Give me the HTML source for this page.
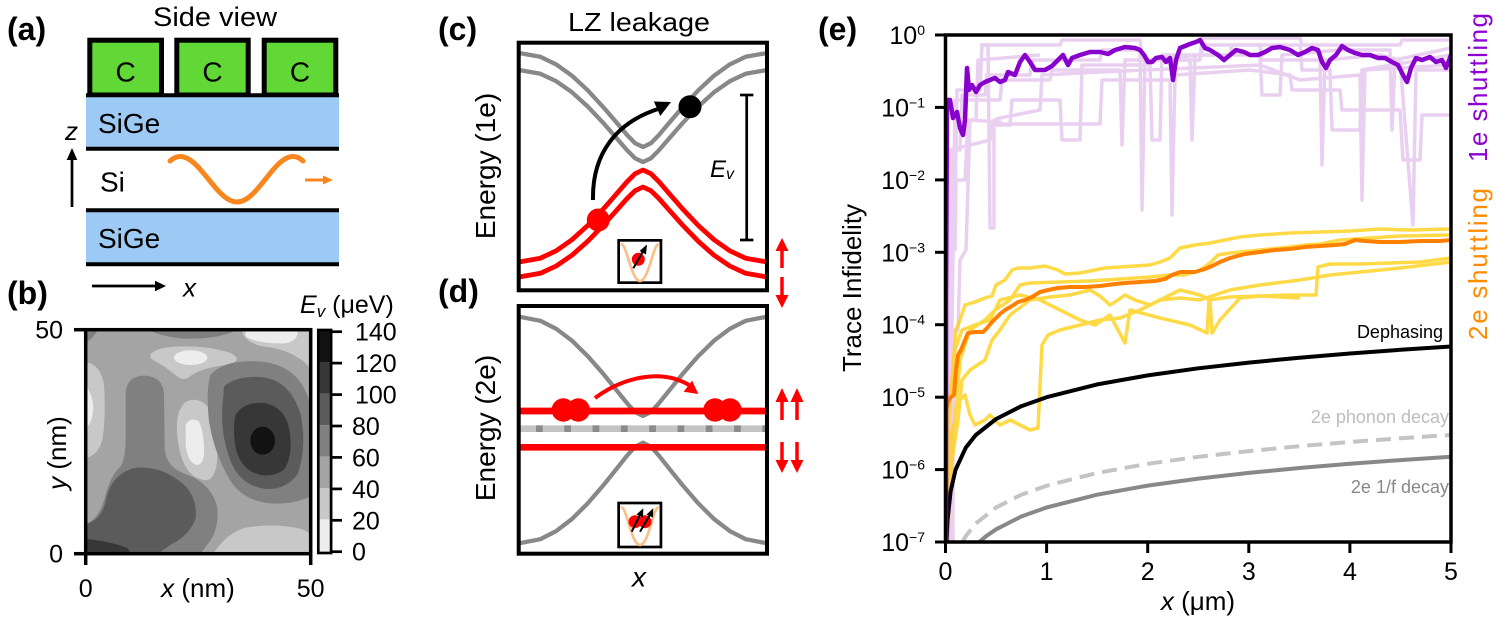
<!DOCTYPE html>
<html><head><meta charset="utf-8"><style>
body{margin:0;background:#fff}
svg{display:block}
text{font-family:"Liberation Sans",sans-serif;fill:#000}
</style></head><body>
<svg width="1498" height="620" viewBox="0 0 1498 620" xmlns="http://www.w3.org/2000/svg">
<defs>
<clipPath id="cmap"><rect x="87.3" y="331.3" width="221.7" height="220.7"/></clipPath>
<clipPath id="ce"><rect x="945.5" y="35" width="505.5" height="507"/></clipPath>
<clipPath id="cc"><rect x="518.7" y="42.7" width="248.3" height="247.6"/></clipPath>
<clipPath id="cd"><rect x="518.7" y="306" width="248.3" height="247.7"/></clipPath>
</defs>
<rect width="1498" height="620" fill="#fff"/>

<!-- ========== Panel (a) ========== -->
<text x="7" y="40" font-size="32" font-weight="bold">(a)</text>
<text x="215" y="26" font-size="27" text-anchor="middle" textLength="124" lengthAdjust="spacingAndGlyphs">Side view</text>
<g fill="#62d836" stroke="#000" stroke-width="5">
<rect x="89.8" y="40.2" width="71.7" height="54.8"/>
<rect x="176.8" y="40.2" width="71.4" height="54.8"/>
<rect x="264.2" y="40.2" width="71.6" height="54.8"/>
</g>
<text x="125.6" y="81.7" font-size="28" text-anchor="middle">C</text>
<text x="212.5" y="81.7" font-size="28" text-anchor="middle">C</text>
<text x="300" y="81.7" font-size="28" text-anchor="middle">C</text>
<rect x="86" y="97" width="253" height="50" fill="#9dcaf4"/>
<rect x="86" y="212" width="253" height="51" fill="#9dcaf4"/>
<g stroke="#000" stroke-width="4">
<line x1="86" y1="95.3" x2="339" y2="95.3"/>
<line x1="86" y1="148.7" x2="339" y2="148.7"/>
<line x1="86" y1="210.3" x2="339" y2="210.3"/>
<line x1="86" y1="264.3" x2="339" y2="264.3"/>
</g>
<text x="98" y="133" font-size="28">SiGe</text>
<text x="98" y="248" font-size="28">SiGe</text>
<text x="100" y="191.7" font-size="28">Si</text>
<text x="65" y="140" font-size="26" font-style="italic">z</text>
<line x1="72" y1="207" x2="72" y2="158" stroke="#000" stroke-width="2.7"/>
<polygon points="72,148 66.7,160 77.3,160" fill="#000"/>
<line x1="92" y1="286" x2="157" y2="286" stroke="#000" stroke-width="2.7"/>
<polygon points="166,286 155,280.7 155,291.3" fill="#000"/>
<text x="183" y="296.7" font-size="26" font-style="italic">x</text>
<path d="M170 161 C174 157.5,177 156.5,180 156.5 C200.5 156.5,216.5 202,237 202 C257.5 202,273.5 156.5,293 156.5 C297 156.5,300 158,303 161" fill="none" stroke="#f7861d" stroke-width="5" stroke-linecap="round"/>
<line x1="305" y1="180" x2="325" y2="180" stroke="#f7861d" stroke-width="3"/>
<polygon points="333,180 323,175.5 323,184.5" fill="#f7861d"/>

<!-- ========== Panel (b) ========== -->
<text x="7" y="304" font-size="32" font-weight="bold">(b)</text>
<g clip-path="url(#cmap)">
<g transform="translate(84 328) scale(0.33333)">
<rect x="0" y="0" width="690" height="690" fill="#a4a4a4"/>
<path d="M0 0 L45 0 Q30 30 0 48 Z" fill="#808080"/>
<path d="M180 0 Q250 35 330 32 Q420 30 470 0 Z" fill="#808080"/>
<path d="M470 0 L690 0 L690 135 Q665 100 640 88 Q600 62 540 56 Q480 45 470 0 Z" fill="#c8c8c8"/>
<path d="M485 0 L640 0 Q648 40 600 46 Q520 48 485 25 Z" fill="#ededed"/>
<path d="M200 78 Q220 55 300 55 Q380 55 440 75 Q485 100 420 112 Q360 118 322 142 Q300 162 280 146 Q240 112 200 92 Z" fill="#c8c8c8"/>
<ellipse cx="320" cy="89" rx="50" ry="22" fill="#ededed"/>
<path d="M0 100 Q50 108 60 170 Q66 260 56 330 Q46 382 0 392 Z" fill="#c8c8c8"/>
<path d="M0 165 Q28 200 28 240 Q25 290 0 305 Z" fill="#ededed"/>
<path d="M300 225 Q340 200 375 240 Q405 300 400 390 Q395 462 360 456 Q310 450 290 380 Q270 300 285 250 Z" fill="#c8c8c8"/>
<path d="M305 290 Q320 265 345 280 Q362 320 360 380 Q355 415 335 410 Q310 400 305 350 Z" fill="#ededed"/>
<path d="M380 140 Q420 95 520 100 Q620 105 660 180 Q700 260 690 360 L690 500 Q640 528 570 527 Q470 522 430 442 Q390 370 375 280 Q365 180 380 140 Z" fill="#808080"/>
<path d="M420 175 Q460 140 540 148 Q620 160 650 260 Q670 360 640 440 Q600 490 540 482 Q470 472 440 400 Q410 320 415 240 Z" fill="#5b5b5b"/>
<path d="M455 260 Q480 220 540 225 Q600 235 615 300 Q630 380 600 425 Q570 447 530 441 Q470 427 455 360 Q445 300 455 260 Z" fill="#373737"/>
<ellipse cx="536" cy="338" rx="37" ry="42" fill="#121212"/>
<path d="M125 200 Q125 145 180 143 Q238 145 240 200 L242 360 Q245 420 310 440 Q385 470 400 540 Q405 610 370 650 L340 690 L0 690 L0 590 Q45 575 62 510 Q80 440 110 415 Q125 390 125 330 Z" fill="#808080"/>
<path d="M0 590 Q50 580 65 520 Q80 440 150 420 Q230 410 300 470 Q340 510 335 570 Q320 620 260 650 Q230 672 200 690 L0 690 Z" fill="#5b5b5b"/>
<path d="M0 632 Q80 640 130 660 L150 690 L0 690 Z" fill="#373737"/>
<path d="M380 690 Q420 620 480 600 Q560 585 640 600 Q690 610 690 650 L690 690 Z" fill="#c8c8c8"/>
</g>
</g>
<rect x="85.7" y="329.7" width="225" height="224" fill="none" stroke="#000" stroke-width="3.5"/>
<g stroke="#000" stroke-width="3.5">
<line x1="74" y1="329.7" x2="85.7" y2="329.7"/>
<line x1="74" y1="553.7" x2="85.7" y2="553.7"/>
<line x1="85.7" y1="553.7" x2="85.7" y2="565"/>
<line x1="310.7" y1="553.7" x2="310.7" y2="565"/>
</g>
<text x="63" y="338.5" font-size="25" text-anchor="end">50</text>
<text x="63" y="562.5" font-size="25" text-anchor="end">0</text>
<text x="85.7" y="597" font-size="25" text-anchor="middle">0</text>
<text x="310.7" y="597" font-size="25" text-anchor="middle">50</text>
<text x="198" y="597" font-size="26" text-anchor="middle"><tspan font-style="italic">x</tspan> (nm)</text>
<text transform="translate(66 453) rotate(-90)" font-size="26" text-anchor="middle"><tspan font-style="italic">y</tspan> (nm)</text>
<text x="300" y="313" font-size="25"><tspan font-style="italic">E</tspan><tspan font-size="17" dy="4" font-style="italic">v</tspan><tspan dy="-4"> (μeV)</tspan></text>
<!-- colorbar -->
<rect x="319" y="331" width="11" height="31.4" fill="#121212"/>
<rect x="319" y="362.4" width="11" height="31.4" fill="#373737"/>
<rect x="319" y="393.8" width="11" height="31.4" fill="#5b5b5b"/>
<rect x="319" y="425.2" width="11" height="31.4" fill="#808080"/>
<rect x="319" y="456.6" width="11" height="31.4" fill="#a4a4a4"/>
<rect x="319" y="488" width="11" height="31.4" fill="#c8c8c8"/>
<rect x="319" y="519.4" width="11" height="32.6" fill="#ededed"/>
<rect x="318.3" y="330" width="12.8" height="223" fill="none" stroke="#000" stroke-width="2.7"/>
<g stroke="#000" stroke-width="2.7">
<line x1="331" y1="331.7" x2="342" y2="331.7"/>
<line x1="331" y1="363.1" x2="342" y2="363.1"/>
<line x1="331" y1="394.6" x2="342" y2="394.6"/>
<line x1="331" y1="426" x2="342" y2="426"/>
<line x1="331" y1="457.4" x2="342" y2="457.4"/>
<line x1="331" y1="488.9" x2="342" y2="488.9"/>
<line x1="331" y1="520.3" x2="342" y2="520.3"/>
<line x1="331" y1="551.7" x2="342" y2="551.7"/>
</g>
<g font-size="25">
<text x="355" y="340.7">140</text>
<text x="355" y="372.1">120</text>
<text x="355" y="403.6">100</text>
<text x="352" y="435">80</text>
<text x="352" y="466.4">60</text>
<text x="352" y="497.9">40</text>
<text x="352" y="529.3">20</text>
<text x="352" y="560.7">0</text>
</g>

<!-- ========== Panel (c) ========== -->
<text x="438" y="40" font-size="32" font-weight="bold">(c)</text>
<text x="639" y="31" font-size="26" text-anchor="middle" textLength="142" lengthAdjust="spacingAndGlyphs">LZ leakage</text>
<text transform="translate(495 166) rotate(-90)" font-size="28" text-anchor="middle">Energy (1e)</text>
<g clip-path="url(#cc)" fill="none" stroke-linejoin="round">
<polyline stroke="#888" stroke-width="4.3" points="519,53 540.4,56.8 556.2,64.4 572,75.7 587.7,90.3 603.5,107.4 615.4,121.2 627.2,135.1 635.1,143.2 643,147 650.9,143.2 658.8,135.1 670.6,121.2 682.5,107.4 698.3,90.3 714,75.7 729.8,64.4 745.6,56.8 767,53"/>
<polyline stroke="#888" stroke-width="4.3" points="519,70 540.4,73.8 556.2,81.2 572,92.3 587.7,106.5 603.5,123.2 615.4,136.8 627.2,150.4 635.1,158.3 643,162 650.9,158.3 658.8,150.4 670.6,136.8 682.5,123.2 698.3,106.5 714,92.3 729.8,81.2 745.6,73.8 767,70"/>
<polyline stroke="#f00" stroke-width="4.8" points="519,262 540.4,258.2 556.2,250.8 572,239.7 587.7,225.5 603.5,208.8 615.4,195.2 627.2,181.6 635.1,173.7 643,170 650.9,173.7 658.8,181.6 670.6,195.2 682.5,208.8 698.3,225.5 714,239.7 729.8,250.8 745.6,258.2 767,262"/>
<polyline stroke="#f00" stroke-width="4.8" points="519,277 540.4,273.3 556.2,266 572,255.2 587.7,241.3 603.5,225 615.4,211.7 627.2,198.4 635.1,190.7 643,187 650.9,190.7 658.8,198.4 670.6,211.7 682.5,225 698.3,241.3 714,255.2 729.8,266 745.6,273.3 767,277"/>
</g>
<path d="M593 200 C592 152,618 122,658 109" fill="none" stroke="#000" stroke-width="4"/>
<polygon points="671,102 653.9,101.5 660.3,116" fill="#000"/>
<circle cx="598.3" cy="220" r="11.5" fill="#f00"/>
<circle cx="690" cy="106.7" r="11.5" fill="#000"/>
<g stroke="#000" stroke-width="2.7">
<line x1="746.7" y1="95" x2="746.7" y2="240"/>
<line x1="740" y1="95" x2="753.4" y2="95"/>
<line x1="740" y1="240" x2="753.4" y2="240"/>
</g>
<text x="710" y="177" font-size="24" font-style="italic">E<tspan font-size="16" dy="2">v</tspan></text>
<!-- inset c -->
<rect x="618.65" y="240.35" width="42.3" height="42.3" fill="#fff" stroke="#000" stroke-width="2.7"/>
<path d="M621 245 C626 240,631 281,640 281 C649 281,654 240,659 245" fill="none" stroke="#f9c08a" stroke-width="2.7"/>
<circle cx="638.3" cy="259.3" r="6.5" fill="#f00"/>
<line x1="633.3" y1="268.3" x2="643.5" y2="250.5" stroke="#000" stroke-width="2"/>
<polygon points="647,244.5 639.5,251 646,254.5" fill="#000"/>
<rect x="518.7" y="42.7" width="248.3" height="247.6" fill="none" stroke="#000" stroke-width="4"/>
<!-- red arrows c -->
<g stroke="#f00" stroke-width="3.5">
<line x1="782" y1="268" x2="782" y2="248"/>
<line x1="782" y1="277" x2="782" y2="298"/>
</g>
<polygon points="782,238 775.5,251 788.5,251" fill="#f00"/>
<polygon points="782,308 775.5,295 788.5,295" fill="#f00"/>

<!-- ========== Panel (d) ========== -->
<text x="438" y="302" font-size="32" font-weight="bold">(d)</text>
<text transform="translate(495 428) rotate(-90)" font-size="28" text-anchor="middle">Energy (2e)</text>
<text x="632" y="586.7" font-size="28" font-style="italic">x</text>
<g clip-path="url(#cd)" fill="none" stroke-linejoin="round">
<polyline stroke="#888" stroke-width="4.3" points="519,316.7 540.4,320.8 556.2,328.8 572,340.7 587.7,356.1 603.5,374.1 615.4,388.8 627.2,403.4 635.1,412 643,416 650.9,412 658.8,403.4 670.6,388.8 682.5,374.1 698.3,356.1 714,340.7 729.8,328.8 745.6,320.8 767,316.7"/>
<polyline stroke="#888" stroke-width="4.3" points="519,543.3 540.4,539.2 556.2,531.1 572,519 587.7,503.4 603.5,485.1 615.4,470.3 627.2,455.4 635.1,446.8 643,442.7 650.9,446.8 658.8,455.4 670.6,470.3 682.5,485.1 698.3,503.4 714,519 729.8,531.1 745.6,539.2 767,543.3"/>
<line x1="519" y1="428.7" x2="767" y2="428.7" stroke="#c4c4c4" stroke-width="6.7"/>
<line x1="519" y1="428.7" x2="767" y2="428.7" stroke="#8a8a8a" stroke-width="6.7" stroke-dasharray="6.7 21.6" stroke-dashoffset="11.3"/>
<line x1="519" y1="411" x2="767" y2="411" stroke="#f00" stroke-width="6.7"/>
<line x1="519" y1="447.3" x2="767" y2="447.3" stroke="#f00" stroke-width="6.7"/>
</g>
<g fill="#f00">
<circle cx="563.3" cy="410" r="11.7"/><circle cx="578.3" cy="410" r="11.7"/>
<circle cx="715" cy="410" r="11.7"/><circle cx="730" cy="410" r="11.7"/>
</g>
<path d="M595 398 C622 378,660 368,689 385" fill="none" stroke="#f00" stroke-width="4"/>
<polygon points="698.3,394 683.7,391.8 692.1,380.6" fill="#f00"/>
<!-- inset d -->
<rect x="618.65" y="503" width="42.3" height="44" fill="#fff" stroke="#000" stroke-width="2.7"/>
<path d="M621 508 C626 503,631 545,640 545 C649 545,654 503,659 508" fill="none" stroke="#f9c08a" stroke-width="2.7"/>
<circle cx="635" cy="521.7" r="6.5" fill="#f00"/>
<circle cx="645" cy="521.7" r="6.5" fill="#f00"/>
<g stroke="#000" stroke-width="2">
<line x1="631.7" y1="531.7" x2="640.5" y2="514"/>
<line x1="640" y1="531.7" x2="650.5" y2="514"/>
</g>
<polygon points="643.3,508.3 636.5,514.5 643,517.5" fill="#000"/>
<polygon points="653.3,508.3 646.5,514.5 653,517.5" fill="#000"/>
<rect x="518.7" y="306" width="248.3" height="247.7" fill="none" stroke="#000" stroke-width="4"/>
<!-- red arrows d -->
<g stroke="#f00" stroke-width="3.5">
<line x1="782" y1="420" x2="782" y2="398"/>
<line x1="797" y1="420" x2="797" y2="398"/>
<line x1="782" y1="442" x2="782" y2="463"/>
<line x1="797" y1="442" x2="797" y2="463"/>
</g>
<g fill="#f00">
<polygon points="782,388 775.5,402 788.5,402"/>
<polygon points="797,388 790.5,402 803.5,402"/>
<polygon points="782,473 775.5,460 788.5,460"/>
<polygon points="797,473 790.5,460 803.5,460"/>
</g>

<!-- ========== Panel (e) ========== -->
<text x="818" y="40" font-size="32" font-weight="bold">(e)</text>
<g clip-path="url(#ce)" fill="none" stroke-linejoin="round">
<!-- faint 1e traces -->
<g stroke="#c77fd8" stroke-width="3.5" opacity="0.36">
<polyline points="946,542 946,300 950,300 952,150 960,150 962,95 985,95 987,75 1030,75 1032,60 1100,60 1102,50 1140,50 1142,210 1145,60 1200,55 1205,45 1260,45 1262,60 1320,60 1322,165 1325,60 1380,55 1400,60 1413,225 1416,70 1451,70"/>
<polyline points="948,542 948,250 955,250 956,180 965,180 968,120 1000,122 1002,124 1100,124 1102,80 1170,80 1172,215 1175,75 1250,70 1290,75 1292,90 1340,90 1342,110 1400,110 1403,160 1420,160 1422,115 1451,115"/>
<polyline points="947,400 950,150 990,140 992,125 1010,125 1012,100 1060,100 1062,140 1080,140 1082,65 1150,65 1152,140 1160,140 1162,55 1230,55 1232,45 1300,45 1302,70 1330,70 1332,130 1360,130 1362,70 1451,55"/>
<polyline points="950,542 950,200 955,200 957,90 980,90 982,45 1060,45 1062,40 1140,40 1142,60 1200,60 1202,38 1300,38 1302,45 1400,45 1402,40 1451,40"/>
<polyline points="946,380 952,330 955,100 1000,100 1002,80 1050,80 1052,70 1120,70 1122,145 1125,60 1190,60 1192,140 1195,55 1260,55 1262,95 1280,95 1282,55 1340,50 1390,50 1392,130 1395,60 1451,48"/>
<polyline points="980,45 988,45 990,228 994,228 994,120 1000,118 1040,110 1042,75 1100,72 1260,65 1300,80 1360,75 1362,200 1365,70 1451,65"/>
<polyline points="953,542 953,330 958,330 960,260 966,250 970,120 976,120 978,60 1040,55"/>
</g>
<!-- 2e individual traces -->
<g stroke="#ffd11a" stroke-width="3.5" opacity="0.8">
<polyline points="947,542 948,420 952,380 956,330 960,320 965,305 975,302 985,298 992,296 996,285 1005,280 1012,270 1018,268 1030,268 1045,266 1058,270 1065,274 1080,273 1095,270 1105,268 1120,267 1135,266 1150,265 1160,262 1170,258 1180,248 1195,245 1210,243 1225,240 1240,237 1260,235 1290,233 1320,232 1350,231 1380,229 1410,230 1451,229"/>
<polyline points="948,542 950,470 955,420 960,360 970,330 985,320 995,310 1010,300 1020,285 1030,283 1060,282 1090,281 1120,279 1150,277 1170,275 1185,275 1200,270 1210,263 1218,255 1230,253 1260,250 1290,247 1305,245 1320,244 1340,240 1370,238 1400,236 1451,235"/>
<polyline points="947,520 952,460 958,420 962,380 970,370 985,360 992,340 1000,330 1010,315 1030,300 1050,297 1070,295 1090,290 1100,296 1110,305 1118,300 1125,295 1135,300 1150,305 1160,300 1180,290 1200,295 1210,300 1212,333 1220,320 1240,298 1260,296 1290,295 1316,295 1318,267 1330,264 1360,264 1390,263 1420,262 1451,258"/>
<polyline points="946,542 948,480 950,440 955,420 960,400 965,395 970,415 975,425 985,420 990,415 1000,425 1010,420 1020,425 1030,430 1038,428 1042,345 1048,335 1060,330 1080,325 1100,320 1120,318 1140,310 1160,300 1180,298 1200,300 1230,290 1260,285 1300,280 1330,275 1360,272 1400,268 1451,262"/>
<polyline points="946,542 947,460 950,400 955,350 962,330 975,325 990,320 1000,300 1020,295 1040,300 1060,310 1080,320 1095,325 1110,315 1125,343 1130,310 1160,318 1190,325 1207,333 1209,300 1230,297 1260,296 1300,298"/>
</g>
<!-- model curves -->
<polyline stroke="#888" stroke-width="4" points="979.2,542 985.9,536.3 996.1,529.3 1021.3,516.5 1046.6,507.5 1097.2,494.7 1147.7,485.6 1198.3,478.6 1248.8,472.9 1299.4,468 1349.9,463.8 1400.5,460.1 1451,456.8"/>
<polyline stroke="#c4c4c4" stroke-width="4" stroke-dasharray="15 8" points="962.3,542 965.7,536.3 975.8,523.5 996.1,507.5 1021.3,494.7 1046.6,485.7 1097.2,472.9 1147.7,463.8 1198.3,456.8 1248.8,451.1 1299.4,446.2 1349.9,442 1400.5,438.3 1451,435"/>
<polyline stroke="#000" stroke-width="4" points="946.5,542 947.5,520.2 950.6,491.4 955.6,469.6 965.7,447.8 975.8,435 996.1,419 1021.3,406.2 1046.6,397.2 1097.2,384.4 1147.7,375.4 1198.3,368.3 1248.8,362.6 1299.4,357.7 1349.9,353.5 1400.5,349.8 1451,346.5"/>
<!-- 2e mean -->
<polyline stroke="#ff8000" stroke-width="4" points="946,410 948,402 951,397 954,395 956,370 958,355 961,350 965,340 968,333 975,332 983,332 987,328 992,322 996,318 1000,314 1005,310 1012,306 1018,302 1025,300 1032,297 1040,292 1048,290 1058,288 1070,287 1085,287 1100,286 1115,284 1125,283 1140,282 1155,281 1165,279 1172,275 1180,272 1195,272 1205,269 1212,266 1220,262 1230,258 1245,254 1260,252 1275,250 1290,249 1305,247 1320,246 1335,245 1345,244 1355,240 1365,241 1380,242 1400,242 1420,241 1440,241 1451,240"/>
<!-- 1e mean -->
<polyline stroke="#8800cc" stroke-width="4.5" points="946,542 946,300 947,100 950,100 953,118 957,112 960,128 963,135 965,120 967,68 969,90 972,85 976,92 980,85 985,82 990,80 995,78 1000,82 1005,80 1008,72 1015,75 1020,62 1025,55 1030,62 1035,70 1045,70 1052,66 1058,60 1063,55 1068,65 1072,58 1080,55 1090,52 1100,52 1108,54 1115,50 1125,47 1135,48 1140,50 1144,55 1148,62 1152,62 1156,58 1162,57 1166,62 1170,58 1173,80 1176,60 1180,48 1190,44 1196,42 1200,40 1205,48 1210,50 1218,55 1224,60 1230,55 1236,50 1244,52 1250,55 1258,55 1265,52 1272,48 1280,47 1290,50 1298,55 1305,52 1312,48 1318,50 1322,62 1326,68 1330,60 1336,55 1342,46 1348,50 1355,53 1362,55 1370,55 1378,58 1385,58 1392,62 1398,65 1403,75 1407,82 1411,68 1416,58 1422,60 1430,57 1436,62 1442,60 1446,68 1451,55"/>
</g>
<text x="1443" y="338" font-size="18" text-anchor="end">Dephasing</text>
<text x="1449" y="423" font-size="18" text-anchor="end" style="fill:#bdbdbd">2e phonon decay</text>
<text x="1449" y="493" font-size="18" text-anchor="end" style="fill:#888">2e 1/f decay</text>
<rect x="945.5" y="35" width="505.5" height="507" fill="none" stroke="#000" stroke-width="3.5"/>
<g stroke="#000" stroke-width="3">
<line x1="935" y1="35" x2="945.5" y2="35"/>
<line x1="935" y1="107.4" x2="945.5" y2="107.4"/>
<line x1="935" y1="179.9" x2="945.5" y2="179.9"/>
<line x1="935" y1="252.3" x2="945.5" y2="252.3"/>
<line x1="935" y1="324.7" x2="945.5" y2="324.7"/>
<line x1="935" y1="397.2" x2="945.5" y2="397.2"/>
<line x1="935" y1="469.6" x2="945.5" y2="469.6"/>
<line x1="935" y1="542" x2="945.5" y2="542"/>
<line x1="945.5" y1="542" x2="945.5" y2="553"/>
<line x1="1046.6" y1="542" x2="1046.6" y2="553"/>
<line x1="1147.7" y1="542" x2="1147.7" y2="553"/>
<line x1="1248.8" y1="542" x2="1248.8" y2="553"/>
<line x1="1349.9" y1="542" x2="1349.9" y2="553"/>
<line x1="1451" y1="542" x2="1451" y2="553"/>
</g>
<g font-size="25" text-anchor="end">
<text x="925" y="44">10<tspan dy="-9" font-size="14">0</tspan></text>
<text x="925" y="116.4">10<tspan dy="-9" font-size="14">−1</tspan></text>
<text x="925" y="188.9">10<tspan dy="-9" font-size="14">−2</tspan></text>
<text x="925" y="261.3">10<tspan dy="-9" font-size="14">−3</tspan></text>
<text x="925" y="333.7">10<tspan dy="-9" font-size="14">−4</tspan></text>
<text x="925" y="406.2">10<tspan dy="-9" font-size="14">−5</tspan></text>
<text x="925" y="478.6">10<tspan dy="-9" font-size="14">−6</tspan></text>
<text x="925" y="551">10<tspan dy="-9" font-size="14">−7</tspan></text>
</g>
<g font-size="25" text-anchor="middle">
<text x="945.5" y="580">0</text>
<text x="1046.6" y="580">1</text>
<text x="1147.7" y="580">2</text>
<text x="1248.8" y="580">3</text>
<text x="1349.9" y="580">4</text>
<text x="1451" y="580">5</text>
</g>
<text x="1198" y="610" font-size="26" text-anchor="middle"><tspan font-style="italic">x</tspan> (μm)</text>
<text transform="translate(861 288) rotate(-90)" font-size="26" text-anchor="middle">Trace Infidelity</text>
<text transform="translate(1487 87.5) rotate(-90)" font-size="26" text-anchor="middle" textLength="149" lengthAdjust="spacing" style="fill:#8c00d4">1e shuttling</text>
<text transform="translate(1487 264) rotate(-90)" font-size="26" text-anchor="middle" textLength="152" lengthAdjust="spacing" style="fill:#ff8c00">2e shuttling</text>
</svg>
</body></html>
